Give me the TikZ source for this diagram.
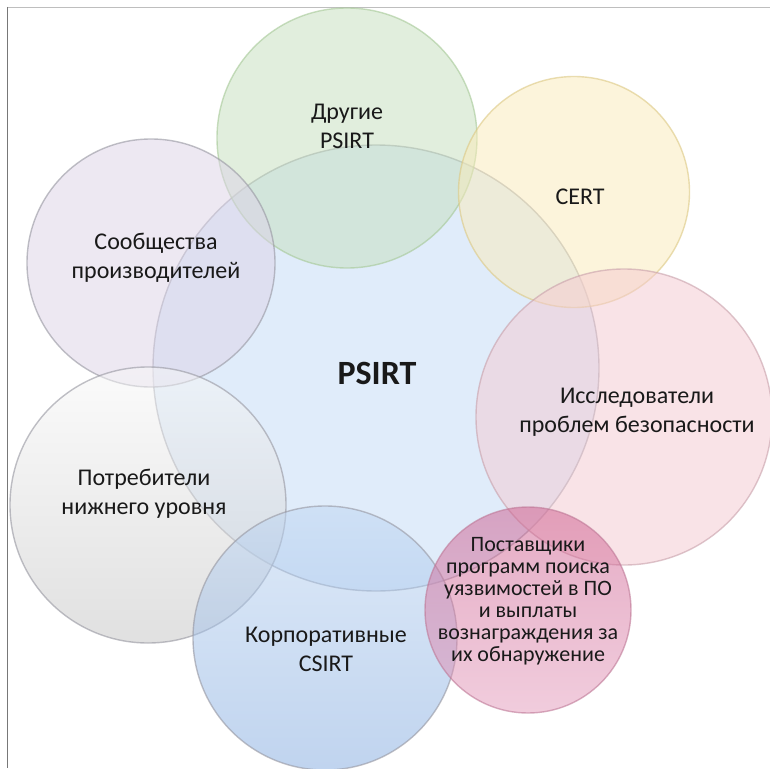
\documentclass[tikz,border=0pt]{standalone}
\usepackage{fontspec}
\setmainfont{Carlito}
\begin{document}
\begin{tikzpicture}[x=1pt,y=-1pt,
  bubble/.style={circle, inner sep=0pt, line width=1.4pt, fill opacity=0.5, draw opacity=0.6},
  label/.style={align=center, text=black!90, font=\fontsize{24}{29}\selectfont, inner sep=0pt},
  smalllabel/.style={align=center, text=black!90, font=\fontsize{22}{22}\selectfont, inner sep=0pt}]
\definecolor{cCore}{RGB}{195,219,247}
\definecolor{cGreen}{RGB}{197,223,189}
\definecolor{cYellow}{RGB}{251,235,185}
\definecolor{cPink}{RGB}{245,201,209}
\definecolor{cLav}{RGB}{221,211,231}
\definecolor{cGrayTop}{RGB}{248,248,248}
\definecolor{cGrayBot}{RGB}{195,195,195}
\definecolor{cBlueTop}{RGB}{190,214,242}
\definecolor{cBlueBot}{RGB}{130,170,224}
\definecolor{cMagTop}{RGB}{205,90,140}
\definecolor{cMagBot}{RGB}{228,155,188}
\definecolor{sGray}{RGB}{150,150,160}
\definecolor{sGreen}{RGB}{165,200,150}
\definecolor{sYellow}{RGB}{220,200,130}
\definecolor{sPink}{RGB}{200,160,170}
\definecolor{sMag}{RGB}{190,120,150}
\useasboundingbox (0,0) rectangle (770,768);
\fill[white] (0,0) rectangle (770,768);
% frame lines
\draw[line width=0.8pt, color={rgb,255:red,190;green,190;blue,190}] (7,7) -- (770,7);
\draw[line width=1pt, color={rgb,255:red,120;green,120;blue,120}] (7,7) -- (7,768);
% circles
\node[bubble, minimum size=446pt, fill=cCore, draw=sGray] (core) at (376,368) {};
\node[bubble, minimum size=260pt, fill=cGreen, draw=sGreen] (other) at (347,138) {};
\node[bubble, minimum size=231pt, fill=cYellow, draw=sYellow] (cert) at (574,192) {};
\node[bubble, minimum size=296pt, fill=cPink, draw=sPink] (research) at (624,417) {};
\node[bubble, minimum size=248pt, fill=cLav, draw=sGray] (vendor) at (151,263) {};
\node[bubble, minimum size=276pt, top color=cGrayTop, bottom color=cGrayBot, draw=sGray] (consumer) at (148,505) {};
\node[bubble, minimum size=264pt, top color=cBlueTop, bottom color=cBlueBot, draw=sGray] (corp) at (325,638) {};
\node[bubble, minimum size=206pt, top color=cMagTop, bottom color=cMagBot, draw=sMag] (bounty) at (528,610) {};
% texts
\node[label] (tOther) at (347,126) {Другие\\PSIRT};
\node[label] (tCert) at (580,197) {CERT};
\node[label] (tVendor) at (156,258) {Сообщества\\производителей};
\node[label] (tResearch) at (637,412) {Исследователи\\проблем безопасности};
\node[label] (tConsumer) at (144,494) {Потребители\\нижнего уровня};
\node[label] (tCorp) at (326,649) {Корпоративные\\CSIRT};
\node[smalllabel] (tBounty) at (528,601) {Поставщики\\программ поиска\\уязвимостей в ПО\\и выплаты\\вознаграждения за\\их обнаружение};
\node[inner sep=0pt, text=black!90, font=\fontsize{34}{40}\selectfont\bfseries] (tCore) at (377,373) {PSIRT};
\end{tikzpicture}
\end{document}
